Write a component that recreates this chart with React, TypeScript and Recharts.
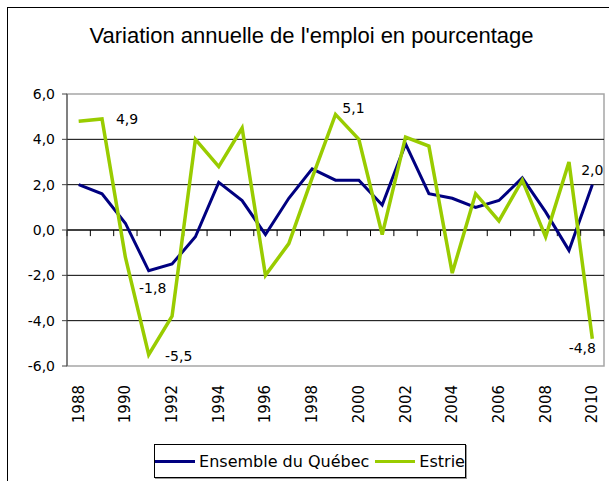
import { FC } from 'react';
import { LineChart, Line, XAxis, YAxis, ReferenceLine, ReferenceArea } from 'recharts';

const years = [
  1988, 1989, 1990, 1991, 1992, 1993, 1994, 1995, 1996, 1997, 1998, 1999, 2000, 2001, 2002, 2003, 2004, 2005, 2006,
  2007, 2008, 2009, 2010,
];
const quebec = [
  2.0, 1.6, 0.3, -1.8, -1.5, -0.3, 2.1, 1.3, -0.2, 1.4, 2.7, 2.2, 2.2, 1.1, 3.8, 1.6, 1.4, 1.0, 1.3, 2.3, 0.8, -0.9, 2.0,
];
const estrie = [
  4.8, 4.9, -1.2, -5.5, -3.8, 4.0, 2.8, 4.5, -2.0, -0.6, 2.3, 5.1, 4.0, -0.2, 4.1, 3.7, -1.9, 1.6, 0.4, 2.2, -0.3, 3.0, -4.8,
];
const yTicks = [-6, -4, -2, 0, 2, 4, 6];
const xTicks = [1988, 1990, 1992, 1994, 1996, 1998, 2000, 2002, 2004, 2006, 2008, 2010];
const gridValues = [-4, -2, 2, 4];
const quebecLabelled = [1991, 2010];
const estrieLabelled = [1989, 1991, 1999, 2010];

const data = years.map((year, i) => ({ year, quebec: quebec[i], estrie: estrie[i] }));
const boundaries = [...years.map((y) => y - 0.5), years[years.length - 1] + 0.5];

const fmt = (v: number) => v.toFixed(1).replace('.', ',');
const font = '"DejaVu Sans", sans-serif';

// label offsets relative to the point
const quebecOffsets: Record<number, [number, number]> = { 1991: [4, 17], 2010: [0, -15] };
const estrieOffsets: Record<number, [number, number]> = { 1989: [25, 0], 1991: [30, 1], 1999: [18, -6], 2010: [-10, 9] };

const makeLabel = (labelled: number[], offsets: Record<number, [number, number]>) => (props: any) => {
  const { x, y, index, value } = props;
  const year = years[index];
  if (!labelled.includes(year)) return null;
  const [dx, dy] = offsets[year];
  return (
    <text
      key={`lbl-${year}`}
      x={x + dx}
      y={y + dy}
      textAnchor="middle"
      dominantBaseline="central"
      fontFamily={font}
      fontSize={14}
      fill="#000"
    >
      {fmt(value)}
    </text>
  );
};

const YearTick = (props: any) => {
  const { x, y, payload } = props;
  const ty = y + 17;
  return (
    <text
      x={x}
      y={ty}
      transform={`rotate(-90 ${x} ${ty})`}
      textAnchor="end"
      dominantBaseline="central"
      fontFamily={font}
      fontSize={15}
      fill="#000"
    >
      {payload.value}
    </text>
  );
};

const LegendItem: FC<{ color: string; label: string }> = ({ color, label }) => (
  <span style={{ display: 'inline-flex', alignItems: 'center' }}>
    <span style={{ display: 'inline-block', width: 40, height: 3, background: color, marginRight: 4 }} />
    {label}
  </span>
);

const App: FC = () => {
  return (
    <div style={{ position: 'absolute', left: 0, top: 0, width: 609, height: 481, background: '#fff', overflow: 'hidden' }}>
      <div
        style={{
          position: 'absolute',
          left: 7,
          top: 7,
          width: 602,
          height: 474,
          borderTop: '1.5px solid #000',
          borderLeft: '1.5px solid #000',
        }}
      />
      <div
        style={{
          position: 'absolute',
          left: 0,
          top: 23,
          width: 623,
          textAlign: 'center',
          fontFamily: '"Liberation Sans", Arial, sans-serif',
          fontSize: 22,
          color: '#000',
        }}
      >
        Variation annuelle de l'emploi en pourcentage
      </div>
      <div style={{ position: 'absolute', left: 0, top: 0 }}>
        <LineChart width={609} height={481} data={data} margin={{ top: 94, right: 5, bottom: 55, left: 7 }}>
          <XAxis
            dataKey="year"
            type="number"
            domain={[1987.5, 2010.5]}
            ticks={xTicks}
            interval={0}
            allowDataOverflow
            axisLine={false}
            tickLine={false}
            tickSize={0}
            height={60}
            tick={<YearTick />}
          />
          <YAxis
            domain={[-6, 6]}
            ticks={yTicks}
            interval={0}
            width={60}
            tickFormatter={fmt}
            tickSize={5}
            tickMargin={7}
            tick={{ fill: '#000', fontFamily: font, fontSize: 14 }}
            axisLine={{ stroke: '#444' }}
            tickLine={{ stroke: '#444' }}
          />
          <ReferenceArea x1={1987.5} x2={2010.5} y1={-6} y2={6} fill="none" stroke="#a6a6a6" strokeWidth={1.5} />
          {gridValues.map((v) => (
            <ReferenceLine key={v} y={v} stroke="#000" strokeWidth={1} />
          ))}
          <ReferenceLine y={0} stroke="#000" strokeWidth={1.3} />
          {boundaries.map((b) => (
            <ReferenceLine
              key={`t${b}`}
              segment={[
                { x: b, y: 0 },
                { x: b, y: -0.27 },
              ]}
              stroke="#000"
              strokeWidth={1}
            />
          ))}
          <Line
            dataKey="quebec"
            stroke="#000080"
            strokeWidth={3}
            dot={false}
            isAnimationActive={false}
            label={makeLabel(quebecLabelled, quebecOffsets)}
          />
          <Line
            dataKey="estrie"
            stroke="#99cc00"
            strokeWidth={3.5}
            dot={false}
            isAnimationActive={false}
            label={makeLabel(estrieLabelled, estrieOffsets)}
          />
        </LineChart>
      </div>
      <div
        style={{
          position: 'absolute',
          left: 154,
          top: 444,
          width: 312,
          height: 34,
          boxSizing: 'border-box',
          border: '1px solid #000',
          boxShadow: '1px 1px 0 #999',
          display: 'flex',
          alignItems: 'center',
          justifyContent: 'center',
          gap: 6,
          fontFamily: font,
          fontSize: 16,
          color: '#000',
        }}
      >
        <LegendItem color="#000080" label="Ensemble du Québec" />
        <LegendItem color="#99cc00" label="Estrie" />
      </div>
    </div>
  );
};

export default App;
